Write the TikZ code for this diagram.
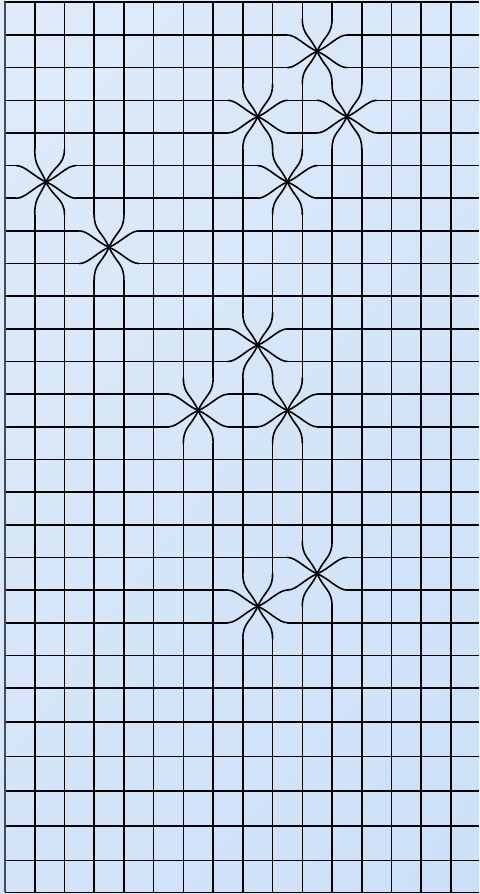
\documentclass[tikz,border=0pt]{standalone}
\usetikzlibrary{shadings}
\definecolor{bgTL}{RGB}{223,235,249}
\definecolor{bgTR}{RGB}{216,231,249}
\definecolor{bgBL}{RGB}{212,228,248}
\definecolor{bgBR}{RGB}{203,224,247}
\definecolor{edgegray}{RGB}{70,76,86}
% \starcell[shift left]{column}{row}
\newcommand\starcell[3][0]{%
  \begin{scope}[shift={(#2,#3)}]
    \pgfmathsetmacro\stcx{0.5-#1}%
    \pgfmathsetmacro\stcl{0.25-#1}%
    \pgfmathsetmacro\stcr{0.75-#1}%
    % left vertical line
    \draw[starray] (0,-0.5) .. controls (0,0) and (\stcl,0) .. (\stcx,0.5);
    \draw[starray] (\stcx,0.5) .. controls (\stcl,1) and (0,1) .. (0,1.5);
    % right vertical line
    \draw[starray] (1,-0.5) .. controls (1,0) and (\stcr,0) .. (\stcx,0.5);
    \draw[starray] (\stcx,0.5) .. controls (\stcr,1) and (1,1) .. (1,1.5);
    \begin{scope}[shift={(-#1,0)}]
      % top horizontal line
      \draw[starray] (-0.5,0) .. controls (-0.2,0) and (0.1,0.35) .. (0.5,0.5);
      \draw[starray] (0.5,0.5) .. controls (0.9,0.35) and (1.2,0) .. (1.5,0);
      % bottom horizontal line
      \draw[starray] (-0.5,1) .. controls (-0.2,1) and (0.1,0.65) .. (0.5,0.5);
      \draw[starray] (0.5,0.5) .. controls (0.9,0.65) and (1.2,1) .. (1.5,1);
    \end{scope}
  \end{scope}}
\begin{document}
\begin{tikzpicture}[x=29.73pt,y=-32.65pt,
  gridline/.style={line width=1.6pt,black,line cap=butt},
  starray/.style={line width=1.6pt,black,line cap=round},
  edgeline/.style={line width=1.6pt,edgegray}]
\def\R{15.9435}
\def\B{27.26}
\useasboundingbox (-0.16818,-0.07198) rectangle (15.9435,27.309);
\shade[upper left=bgTL, upper right=bgTR, lower left=bgBL, lower right=bgBR]
  (-0.16818,-0.07198) rectangle (15.9435,27.309);
% ---------- horizontal lines ----------
\draw[gridline,line width=2.2pt] (-0.02,0) -- (\R,0);
\draw[gridline] (0,1) -- (9.5,1) (11.5,1) -- (\R,1);
\draw[gridline] (0,2) -- (9.5,2) (11.5,2) -- (\R,2);
\draw[gridline] (0,3) -- (7.5,3) (9.5,3) -- (10.5,3) (12.5,3) -- (\R,3);
\draw[gridline] (0,4) -- (7.5,4) (9.5,4) -- (10.5,4) (12.5,4) -- (\R,4);
\draw[gridline] (0,5) -- (0.382,5) (2.382,5) -- (8.5,5) (10.5,5) -- (\R,5);
\draw[gridline] (0,6) -- (0.382,6) (2.382,6) -- (8.5,6) (10.5,6) -- (\R,6);
\draw[gridline] (0,7) -- (2.5,7) (4.5,7) -- (\R,7);
\draw[gridline] (0,8) -- (2.5,8) (4.5,8) -- (\R,8);
\draw[gridline] (0,9) -- (\R,9);
\draw[gridline] (0,10) -- (7.5,10) (9.5,10) -- (\R,10);
\draw[gridline] (0,11) -- (7.5,11) (9.5,11) -- (\R,11);
\draw[gridline] (0,12) -- (5.5,12) (7.5,12) -- (8.5,12) (10.5,12) -- (\R,12);
\draw[gridline] (0,13) -- (5.5,13) (7.5,13) -- (8.5,13) (10.5,13) -- (\R,13);
\foreach \yy in {14,15,16}{\draw[gridline] (0,\yy) -- (\R,\yy);}
\draw[gridline] (0,17) -- (9.5,17) (11.5,17) -- (\R,17);
\draw[gridline] (0,18) -- (7.5,18) (11.5,18) -- (\R,18);
\draw[gridline] (0,19) -- (7.5,19) (9.5,19) -- (\R,19);
\foreach \yy in {20,21,22.04,23.10,24.155,25.217,26.28,27.26}{\draw[gridline] (0,\yy) -- (\R,\yy);}
% ---------- vertical lines ----------
\draw[edgeline] (0,0) -- (0,\B);
\draw[gridline] (1,0) -- (1,4.5) (1,6.5) -- (1,\B);
\draw[gridline] (2,0) -- (2,4.5) (2,6.5) -- (2,\B);
\draw[gridline] (3,0) -- (3,6.5) (3,8.5) -- (3,\B);
\draw[gridline] (4,0) -- (4,6.5) (4,8.5) -- (4,\B);
\draw[gridline] (5,0) -- (5,\B);
\draw[gridline] (6,0) -- (6,11.5) (6,13.5) -- (6,\B);
\draw[gridline] (7,0) -- (7,11.5) (7,13.5) -- (7,\B);
\draw[gridline] (8,0) -- (8,2.5) (8,4.5) -- (8,9.5) (8,11.5) -- (8,17.5) (8,19.5) -- (8,\B);
\draw[gridline] (9,0) -- (9,2.5) (9,6.5) -- (9,9.5) (9,13.5) -- (9,17.5) (9,19.5) -- (9,\B);
\draw[gridline] (10,0) -- (10,0.5) (10,2.5) -- (10,4.5) (10,6.5) -- (10,11.5) (10,13.5) -- (10,16.5) (10,18.5) -- (10,\B);
\draw[gridline] (11,0) -- (11,0.5) (11,4.5) -- (11,16.5) (11,18.5) -- (11,\B);
\draw[gridline] (12,0) -- (12,2.5) (12,4.5) -- (12,\B);
\foreach \xx in {13,14,15}{\draw[gridline] (\xx,0) -- (\xx,\B);}
% ---------- stars ----------
\starcell{10}{1}
\starcell{8}{3}
\starcell{11}{3}
\starcell{9}{5}
\starcell[0.118]{1}{5}
\starcell{3}{7}
\starcell{8}{10}
\starcell{6}{12}
\starcell{9}{12}
\starcell{10}{17}
\starcell{8}{18}
\end{tikzpicture}
\end{document}
